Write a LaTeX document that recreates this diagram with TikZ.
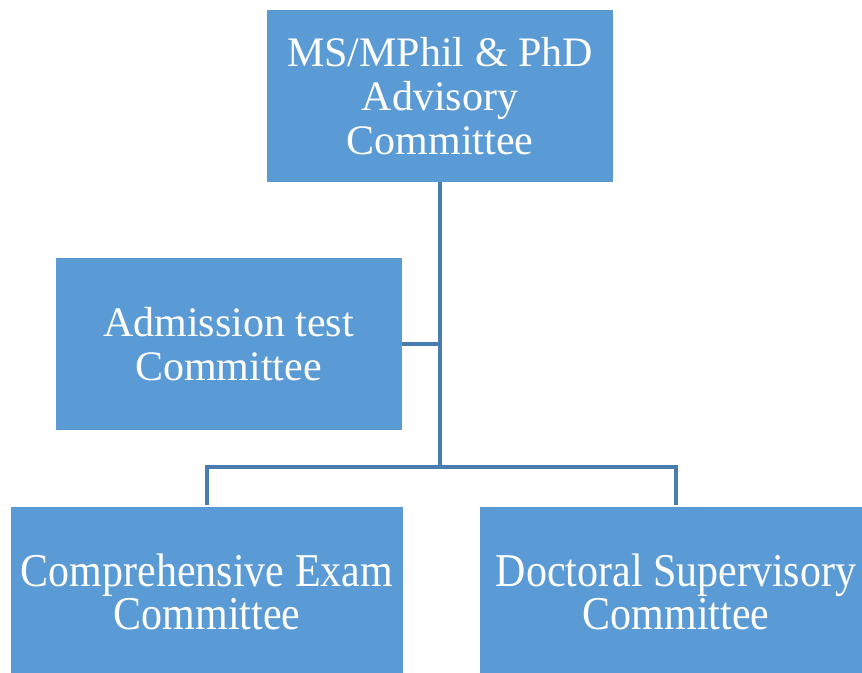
\documentclass[tikz,border=0pt]{standalone}
\usepackage{fontspec}
\setmainfont{Liberation Serif}
\usepackage{graphicx}
\usetikzlibrary{calc}
\definecolor{boxblue}{HTML}{5B9BD5}
\definecolor{lineblue}{HTML}{4A7DAF}
% the bottom boxes print their text a little taller
\newcommand{\tallbox}[1]{\scalebox{1}[1.12]{\begin{tabular}{@{}c@{}}#1\end{tabular}}}
\tikzset{
  committee/.style={fill=boxblue, text=white, align=center, inner sep=0pt,
    minimum width=259.5pt, minimum height=129pt,
    font=\fontsize{31.5}{33}\selectfont},
  widebox/.style={committee, minimum width=294pt, minimum height=136.5pt,
    font=\fontsize{31.5}{28}\selectfont},
  link/.style={draw=lineblue, line width=2.5pt}
}

\begin{document}
\begin{tikzpicture}[x=0.75pt,y=-0.75pt]
\useasboundingbox (0,0) rectangle (862,672);
\clip (0,0) rectangle (862,672);
% boxes
\node[committee] (advisory) at (440,96) {MS/MPhil \& PhD\\Advisory\\Committee};
\node[committee] (admission) at (228.5,344) {Admission test\\Committee};
\node[widebox] (exam) at (207,598) {\tallbox{Comprehensive Exam\\Committee}};
\node[widebox] (doctoral) at (676,598) {\tallbox{Doctoral Supervisory\\Committee}};
% connectors
\coordinate (side) at (advisory.south |- admission.east);
\coordinate (fork) at (440,467);
\draw[link] (advisory.south) -- (fork);
\draw[link] (admission.east) -- (side);
\draw[link] (exam.north) ++(0,-2) |- (fork) -| ($(doctoral.north)+(0,-2)$);
\end{tikzpicture}
\end{document}
